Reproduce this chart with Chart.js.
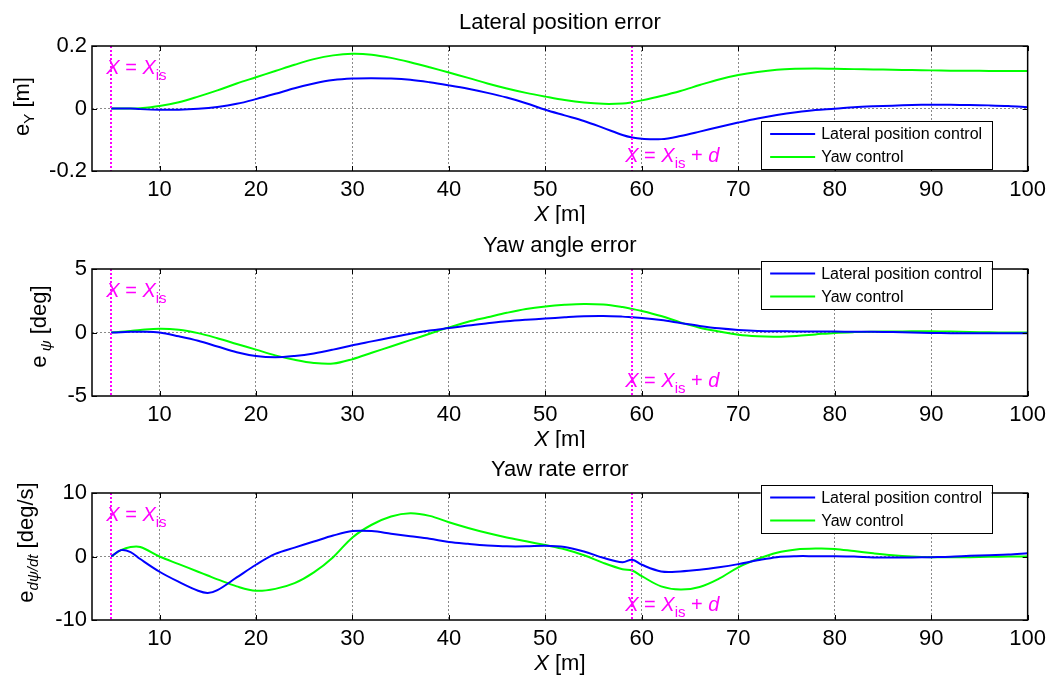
<!DOCTYPE html>
<html>
<head>
<meta charset="utf-8">
<title>Tracking errors</title>
<script src="https://cdn.jsdelivr.net/npm/chart.js@4.4.0/dist/chart.umd.min.js"></script>
<style>
  html, body { margin: 0; padding: 0; background: #fff; }
  #page { position: relative; width: 1052px; height: 675px; overflow: hidden; }
  .panel { position: absolute; left: 0; width: 1052px; }
</style>
</head>
<body>
<div id="page">
  <div class="panel" style="top:0;height:224px"><canvas id="posChart"></canvas></div>
  <div class="panel" style="top:224px;height:224px"><canvas id="yawChart"></canvas></div>
  <div class="panel" style="top:448px;height:227px"><canvas id="rateChart"></canvas></div>
</div>
<script>
// === Shared axis settings ===
const xMin = 3;
const xMax = 100;
const xTicks = [10, 20, 30, 40, 50, 60, 70, 80, 90, 100];
const xIs = 5;       // X = X_is
const xIsPlusD = 59; // X = X_is + d

// === Lateral position error [m] ===
const posTicks = [-0.2, 0, 0.2];
const posX = [5, 6, 7, 8, 10, 12, 14, 16, 18, 20, 22, 24, 26, 28, 30, 32, 34, 36, 38, 40, 42, 44, 46, 48, 50,
  52, 54, 56, 58, 59, 60, 62, 64, 66, 68, 70, 72, 74, 76, 78, 80, 82, 84, 86, 88, 90, 92, 94, 96, 98, 100];
const posLateral = [0, 0, 0, -0.002, -0.004, -0.004, -0.001, 0.005, 0.015, 0.03, 0.047, 0.065, 0.08, 0.091, 0.096,
  0.097, 0.096, 0.092, 0.084, 0.074, 0.063, 0.05, 0.035, 0.017, -0.004, -0.022, -0.04, -0.062, -0.085, -0.093,
  -0.097, -0.098, -0.088, -0.074, -0.059, -0.045, -0.032, -0.021, -0.012, -0.005, -0.001, 0.004, 0.007, 0.009,
  0.011, 0.012, 0.012, 0.011, 0.01, 0.008, 0.004];
const posYaw = [0, 0, 0, 0.001, 0.008, 0.02, 0.038, 0.058, 0.08, 0.1, 0.12, 0.14, 0.158, 0.17, 0.175, 0.172,
  0.162, 0.148, 0.132, 0.115, 0.098, 0.08, 0.064, 0.05, 0.038, 0.027, 0.019, 0.015, 0.016, 0.02, 0.026, 0.04,
  0.056, 0.075, 0.093, 0.107, 0.117, 0.124, 0.127, 0.128, 0.127, 0.126, 0.125, 0.124, 0.123, 0.122, 0.121,
  0.121, 0.12, 0.12, 0.12];

// === Yaw angle error [deg] ===
const yawTicks = [-5, 0, 5];
const yawX = posX;
const yawLateral = [0, 0.02, 0.05, 0.06, 0, -0.3, -0.65, -1.1, -1.55, -1.85, -1.95, -1.85, -1.65, -1.35, -1.0,
  -0.7, -0.4, -0.1, 0.15, 0.35, 0.55, 0.72, 0.88, 1.0, 1.1, 1.2, 1.28, 1.3, 1.25, 1.2, 1.15, 0.98, 0.75, 0.52,
  0.33, 0.2, 0.12, 0.1, 0.08, 0.07, 0.07, 0.06, 0.05, 0.03, 0, -0.03, -0.05, -0.05, -0.05, -0.05, -0.05];
const yawYaw = [0, 0.05, 0.12, 0.2, 0.3, 0.22, -0.05, -0.45, -0.9, -1.35, -1.8, -2.15, -2.4, -2.45, -2.1, -1.6,
  -1.1, -0.6, -0.1, 0.4, 0.85, 1.2, 1.55, 1.85, 2.05, 2.18, 2.25, 2.2, 2.0, 1.85, 1.7, 1.3, 0.8, 0.38, 0.08,
  -0.18, -0.3, -0.33, -0.27, -0.15, -0.03, 0.03, 0.06, 0.08, 0.09, 0.09, 0.07, 0.03, 0.01, 0, 0];

// === Yaw rate error [deg/s] ===
const rateTicks = [-10, 0, 10];
const rateX = [5, 6, 7, 8, 10, 12, 14, 15, 16, 18, 20, 22, 24, 26, 28, 30, 32, 34, 36, 38, 40, 42, 44, 46, 48,
  50, 52, 54, 56, 58, 59, 60, 62, 64, 66, 68, 70, 72, 74, 76, 78, 80, 82, 84, 86, 88, 90, 92, 94, 96, 98, 100];
const rateLateral = [0, 1.0, 0.7, -0.4, -2.4, -4.0, -5.4, -5.75, -5.3, -3.3, -1.3, 0.4, 1.4, 2.35, 3.3, 4.0,
  4.0, 3.6, 3.2, 2.8, 2.3, 2.0, 1.75, 1.6, 1.6, 1.7, 1.5, 0.8, -0.2, -0.9, -0.5, -1.3, -2.35, -2.35, -2.1, -1.7,
  -1.2, -0.6, -0.1, 0.05, 0.05, 0.05, 0, -0.15, -0.15, -0.15, -0.1, -0.05, 0.1, 0.2, 0.3, 0.5];
const rateYaw = [0, 1.0, 1.5, 1.5, 0, -1.2, -2.4, -3.0, -3.6, -4.7, -5.4, -5.1, -4.2, -2.5, -0.1, 3.0, 5.0, 6.3,
  6.8, 6.4, 5.4, 4.5, 3.7, 3.0, 2.4, 1.8, 1.15, 0.2, -1.0, -2.0, -2.2, -3.1, -4.7, -5.2, -4.8, -3.5, -1.7, -0.4,
  0.6, 1.1, 1.25, 1.2, 0.85, 0.5, 0.2, 0, -0.1, -0.1, -0.1, -0.05, 0, 0];

const BLUE = '#0000ff';
const GREEN = '#00ff00';
const MAGENTA = '#ff00ff';
const FONT = '"Liberation Sans", Arial, sans-serif';

// draw a run of text pieces (normal / italic / subscript) starting at x
function drawParts(ctx, parts, x, y) {
    let cx = x;
    parts.forEach(p => {
        ctx.font = (p.it ? 'italic ' : '') + p.size + 'px ' + FONT;
        ctx.fillText(p.t, cx, y + (p.dy || 0));
        cx += ctx.measureText(p.t).width;
    });
    return cx;
}

function partsWidth(ctx, parts) {
    let w = 0;
    parts.forEach(p => {
        ctx.font = (p.it ? 'italic ' : '') + p.size + 'px ' + FONT;
        w += ctx.measureText(p.t).width;
    });
    return w;
}

const labelIs = [
    { t: 'X', size: 20, it: true }, { t: ' = ', size: 20 }, { t: 'X', size: 20, it: true },
    { t: 'is', size: 15, dy: 6 }
];
const labelIsD = labelIs.concat([{ t: ' + ', size: 20 }, { t: 'd', size: 20, it: true }]);
const xTitle = [{ t: 'X', size: 22, it: true }, { t: ' [m]', size: 22 }];

// frame, markers, titles and legend drawn on top of each panel
const panelPlugin = {
    id: 'errorPanel',
    afterDraw(chart, args, o) {
        const { ctx, chartArea: a, scales: { x, y } } = chart;
        ctx.save();

        // dotted markers at X_is and X_is + d
        ctx.strokeStyle = MAGENTA;
        ctx.lineWidth = 2;
        ctx.setLineDash([2, 2]);
        [xIs, xIsPlusD].forEach(v => {
            const px = Math.round(x.getPixelForValue(v));
            ctx.beginPath();
            ctx.moveTo(px, a.top);
            ctx.lineTo(px, a.bottom);
            ctx.stroke();
        });
        ctx.setLineDash([]);

        // box with inward ticks
        ctx.strokeStyle = '#000';
        ctx.lineWidth = 1.5;
        ctx.strokeRect(a.left, a.top, a.right - a.left, a.bottom - a.top);
        ctx.lineWidth = 1;
        ctx.beginPath();
        x.ticks.forEach(t => {
            const px = Math.round(x.getPixelForValue(t.value)) + 0.5;
            ctx.moveTo(px, a.bottom); ctx.lineTo(px, a.bottom - 5);
            ctx.moveTo(px, a.top); ctx.lineTo(px, a.top + 5);
        });
        y.ticks.forEach(t => {
            const py = Math.round(y.getPixelForValue(t.value)) + 0.5;
            ctx.moveTo(a.left, py); ctx.lineTo(a.left + 5, py);
            ctx.moveTo(a.right, py); ctx.lineTo(a.right - 5, py);
        });
        ctx.stroke();

        // marker labels
        ctx.fillStyle = MAGENTA;
        ctx.textAlign = 'left';
        ctx.textBaseline = 'alphabetic';
        drawParts(ctx, labelIs, x.getPixelForValue(xIs) - 5, a.top + 28);
        drawParts(ctx, labelIsD, x.getPixelForValue(xIsPlusD) - 7, a.bottom - 9);

        // panel title and axis titles
        ctx.fillStyle = '#000';
        const cx = (a.left + a.right) / 2;
        ctx.textAlign = 'center';
        ctx.font = '22px ' + FONT;
        ctx.fillText(o.title, cx, a.top - 17);
        ctx.textAlign = 'left';
        drawParts(ctx, xTitle, cx - partsWidth(ctx, xTitle) / 2, a.bottom + 50);

        ctx.save();
        ctx.translate(o.yLabelX, (a.top + a.bottom) / 2 + o.yLabelShift);
        ctx.rotate(-Math.PI / 2);
        drawParts(ctx, o.yLabel, -partsWidth(ctx, o.yLabel) / 2, 0);
        ctx.restore();

        // legend box
        const lw = 231, lh = 48;
        const lx = a.right - 36 - lw;
        const ly = o.legendAt === 'bottom' ? a.bottom - 2 - lh : a.top - 8.5;
        ctx.fillStyle = '#fff';
        ctx.fillRect(lx, ly, lw, lh);
        ctx.strokeStyle = '#000';
        ctx.lineWidth = 1;
        ctx.strokeRect(Math.round(lx) + 0.5, Math.round(ly) + 0.5, lw, lh);
        ctx.font = '16px ' + FONT;
        ctx.textBaseline = 'middle';
        chart.data.datasets.forEach((ds, i) => {
            const ry = ly + 13 + i * 23;
            ctx.strokeStyle = ds.borderColor;
            ctx.lineWidth = 2;
            ctx.beginPath();
            ctx.moveTo(lx + 9.5, ry);
            ctx.lineTo(lx + 54.5, ry);
            ctx.stroke();
            ctx.fillStyle = '#000';
            ctx.fillText(ds.label, lx + 60.5, ry + 1);
        });

        ctx.restore();
    }
};

function toPoints(xs, ys) {
    return xs.map((v, i) => ({ x: v, y: ys[i] }));
}

function makeChart(id, p) {
    const ctx = document.getElementById(id).getContext('2d');
    return new Chart(ctx, {
        type: 'line',
        data: {
            datasets: [
                { label: 'Lateral position control', data: toPoints(p.xs, p.lateral), borderColor: BLUE },
                { label: 'Yaw control', data: toPoints(p.xs, p.yaw), borderColor: GREEN }
            ]
        },
        options: {
            responsive: true,
            maintainAspectRatio: false,
            animation: false,
            events: [],
            layout: { padding: { top: p.top, right: 23, left: 0, bottom: 0 } },
            elements: {
                point: { radius: 0 },
                line: { borderWidth: 2, tension: 0.35, fill: false }
            },
            plugins: {
                legend: { display: false },
                tooltip: { enabled: false },
                errorPanel: {
                    title: p.title,
                    yLabel: p.yLabel,
                    yLabelX: p.yLabelX,
                    yLabelShift: p.yLabelShift,
                    legendAt: p.legendAt
                }
            },
            scales: {
                x: {
                    type: 'linear',
                    min: xMin,
                    max: xMax,
                    afterBuildTicks: s => { s.ticks = xTicks.map(v => ({ value: v })); },
                    afterFit: s => { s.height = p.axisH; },
                    grid: { color: '#8a8a8a', lineWidth: 1, drawTicks: false },
                    border: { display: false, dash: [2, 2] },
                    ticks: { color: '#000', font: { family: FONT, size: 22 }, padding: 6, maxRotation: 0, autoSkip: false }
                },
                y: {
                    min: p.ticks[0],
                    max: p.ticks[p.ticks.length - 1],
                    afterBuildTicks: s => { s.ticks = p.ticks.map(v => ({ value: v })); },
                    afterFit: s => { s.width = 92; },
                    grid: {
                        color: c => (c.tick && c.tick.value === 0 ? '#8a8a8a' : 'rgba(0,0,0,0)'),
                        lineWidth: 1,
                        drawTicks: false
                    },
                    border: { display: false, dash: [2, 2] },
                    ticks: { color: '#000', font: { family: FONT, size: 22 }, padding: 5 }
                }
            }
        },
        plugins: [panelPlugin]
    });
}

document.addEventListener('DOMContentLoaded', () => {
    makeChart('posChart', {
        xs: posX, lateral: posLateral, yaw: posYaw, ticks: posTicks,
        title: 'Lateral position error', top: 46, axisH: 53, legendAt: 'bottom',
        yLabel: [{ t: 'e', size: 22 }, { t: 'Y', size: 15, dy: 5 }, { t: ' [m]', size: 22 }],
        yLabelX: 29, yLabelShift: -2
    });
    makeChart('yawChart', {
        xs: yawX, lateral: yawLateral, yaw: yawYaw, ticks: yawTicks,
        title: 'Yaw angle error', top: 45, axisH: 52, legendAt: 'top',
        yLabel: [{ t: 'e', size: 22 }, { t: ' ψ', size: 15, it: true, dy: 5 }, { t: ' [deg]', size: 22 }],
        yLabelX: 46, yLabelShift: -6
    });
    makeChart('rateChart', {
        xs: rateX, lateral: rateLateral, yaw: rateYaw, ticks: rateTicks,
        title: 'Yaw rate error', top: 45, axisH: 55, legendAt: 'top',
        yLabel: [{ t: 'e', size: 22 }, { t: 'dψ/dt', size: 15, it: true, dy: 5 }, { t: ' [deg/s]', size: 22 }],
        yLabelX: 33, yLabelShift: -14
    });
});
</script>
</body>
</html>
